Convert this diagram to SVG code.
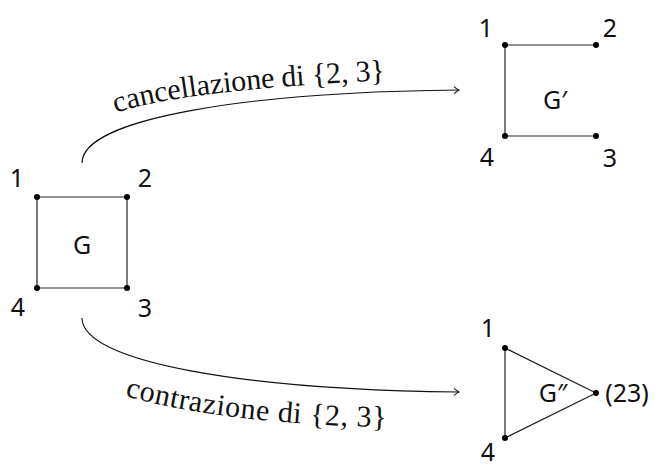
<svg xmlns="http://www.w3.org/2000/svg" width="656" height="466" viewBox="0 0 656 466">
<style>
.e{stroke:#222;stroke-width:1.2;fill:none}
.c{stroke:#111;stroke-width:1.1;fill:none}
.n{fill:#000}
.l{font-family:"Noto Sans","Open Sans",sans-serif;font-size:25px;fill:#111;text-anchor:middle}
.t{font-family:"Liberation Serif","DejaVu Serif",serif;font-size:30px;fill:#111}
</style>
<defs>
<marker id="arr" viewBox="-6 -5 8 10" markerWidth="8" markerHeight="10" refX="0" refY="0" orient="auto" markerUnits="userSpaceOnUse">
<path d="M-5,-3.5 Q-1.5,-0.6 0,0 Q-1.5,0.6 -5,3.5" stroke="#111" stroke-width="1" fill="none"/>
</marker>
<path id="tp1" d="M116,113 Q180,90 392,80"/>
<path id="tp2" d="M125,396 Q230,425 392,427"/>
</defs>
<g id="connectors">
<path class="c" d="M82,163 C82,118 250,92 459,90" marker-end="url(#arr)"/>
<path class="c" d="M82,318 C82,363 250,390 459,392" marker-end="url(#arr)"/>
<text class="t"><textPath href="#tp1" textLength="272" lengthAdjust="spacing">cancellazione di {2, 3}</textPath></text>
<text class="t"><textPath href="#tp2" textLength="264" lengthAdjust="spacing">contrazione di {2, 3}</textPath></text>
</g>
<g id="G">
<path class="e" d="M37,197 H127 V288 H37 Z"/>
<circle class="n" cx="37" cy="197" r="3"/>
<circle class="n" cx="127" cy="197" r="3"/>
<circle class="n" cx="127" cy="288" r="3"/>
<circle class="n" cx="37" cy="288" r="3"/>
<text class="l" x="17" y="187">1</text>
<text class="l" x="145" y="187">2</text>
<text class="l" x="145" y="317">3</text>
<text class="l" x="18" y="316">4</text>
<text class="l" x="82" y="254">G</text>
</g>
<g id="G1">
<path class="e" d="M596,45 H505 V136 H596"/>
<circle class="n" cx="505" cy="45" r="3"/>
<circle class="n" cx="596" cy="45" r="3"/>
<circle class="n" cx="596" cy="136" r="3"/>
<circle class="n" cx="505" cy="136" r="3"/>
<text class="l" x="486" y="37">1</text>
<text class="l" x="610" y="37">2</text>
<text class="l" x="610" y="167">3</text>
<text class="l" x="487" y="166">4</text>
<text class="l" x="555" y="109">G′</text>
</g>
<g id="G2">
<path class="e" d="M505,348 L596,393 L505,438 Z"/>
<circle class="n" cx="505" cy="348" r="3"/>
<circle class="n" cx="596" cy="393" r="3"/>
<circle class="n" cx="505" cy="438" r="3"/>
<text class="l" x="488" y="337">1</text>
<text class="l" x="488" y="461">4</text>
<text class="l" x="553" y="402">G″</text>
<text class="l" x="627" y="402">(23)</text>
</g>
</svg>
